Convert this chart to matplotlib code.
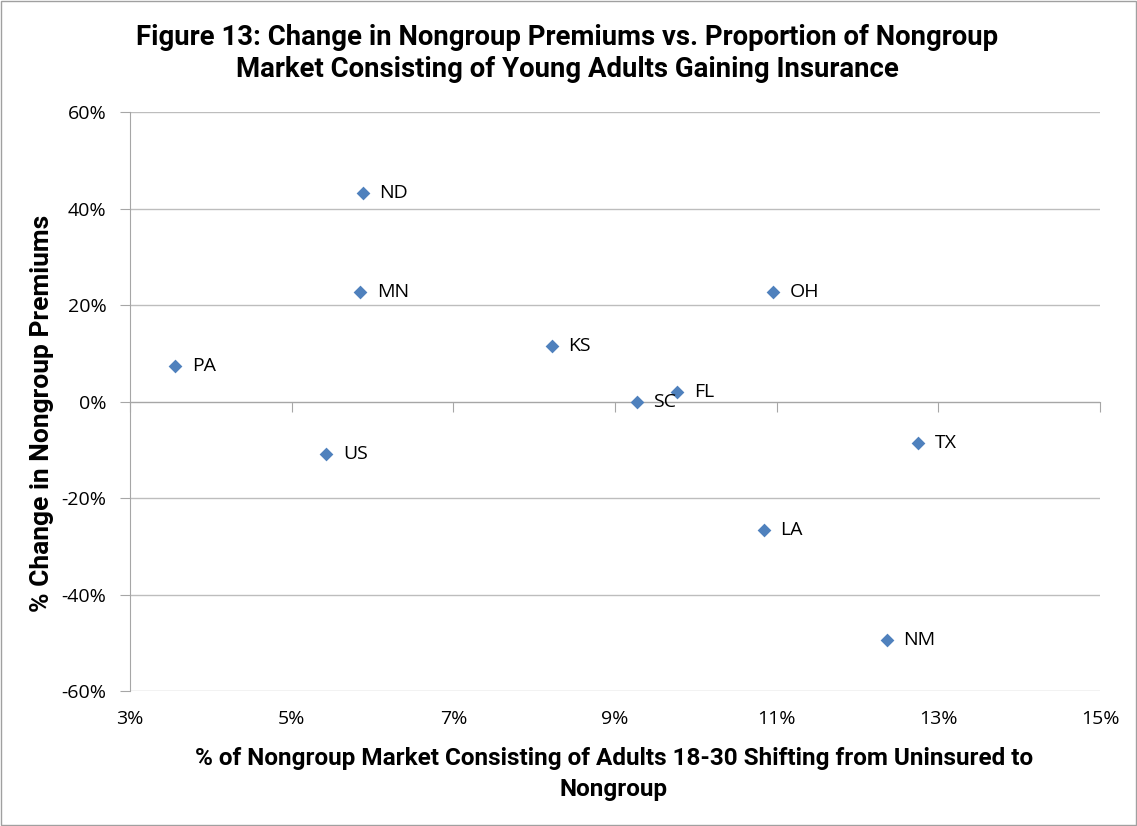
import matplotlib
matplotlib.use("Agg")
import matplotlib.pyplot as plt
from matplotlib.ticker import FuncFormatter, FixedLocator
from matplotlib.patches import Rectangle

states = ["ND", "MN", "PA", "US", "KS", "SC", "FL", "OH", "TX", "LA", "NM"]
young_share = [5.88, 5.85, 3.56, 5.43, 8.22, 9.27, 9.77, 10.96, 12.75, 10.84, 12.36]
premium_change = [43.2, 22.6, 7.3, -10.9, 11.5, 0.0, 2.0, 22.6, -8.5, -26.7, -49.4]
x_ticks = [3, 5, 7, 9, 11, 13, 15]
y_ticks = [-60, -40, -20, 0, 20, 40, 60]

title = "Figure 13: Change in Nongroup Premiums vs. Proportion of Nongroup\nMarket Consisting of Young Adults Gaining Insurance"
xlabel = "% of Nongroup Market Consisting of Adults 18-30 Shifting from Uninsured to\nNongroup"
ylabel = "% Change in Nongroup Premiums"

head = ["Roboto", "DejaVu Sans"]
body = ["Open Sans", "DejaVu Sans"]

fig = plt.figure(figsize=(11.37, 8.26), dpi=100)
fig.patch.set_facecolor("white")
fig.patches.append(Rectangle((0.001, 0.001), 0.998, 0.998, transform=fig.transFigure,
                             fill=False, edgecolor="#A0A0A0", linewidth=1))
ax = fig.add_axes([0.1143, 0.1634, 0.8532, 0.7010])

ax.scatter(young_share, premium_change, marker="D", s=7**2, color="#4F81BD", zorder=3, linewidths=0)
for s, x, y in zip(states, young_share, premium_change):
    ax.annotate(s, (x, y), xytext=(12, 0), textcoords="offset points", va="center", ha="left",
                fontsize=14, family=body, color="black", zorder=4)

ax.set_xlim(3, 15)
ax.set_ylim(-60, 60)
ax.yaxis.set_major_locator(FixedLocator(y_ticks))
ax.xaxis.set_major_locator(FixedLocator(x_ticks))
ax.yaxis.set_major_formatter(FuncFormatter(lambda v, p: f"{v:.0f}%"))
ax.grid(axis="y", color="#BDBDBD", linewidth=1)
ax.set_axisbelow(True)

for sp in ["top", "right"]:
    ax.spines[sp].set_visible(False)
ax.spines["left"].set_color("#A6A6A6")
ax.spines["bottom"].set_position(("data", 0))
ax.spines["bottom"].set_color("#A6A6A6")
ax.tick_params(axis="x", direction="out", length=7, color="#A6A6A6", labelbottom=False)
ax.tick_params(axis="y", direction="out", length=7, color="#A6A6A6", labelsize=14, pad=10)
for lab in ax.get_yticklabels():
    lab.set_family(body)

sec = ax.secondary_xaxis(0)
sec.xaxis.set_major_locator(FixedLocator(x_ticks))
sec.xaxis.set_major_formatter(FuncFormatter(lambda v, p: f"{v:.0f}%"))
sec.spines["bottom"].set_visible(False)
sec.tick_params(length=0, labelsize=14, pad=14)
for lab in sec.get_xticklabels():
    lab.set_family(body)

fig.text(0.499, 0.935, title, ha="center", va="center", fontsize=19.8, fontweight="bold",
         family=head, linespacing=1.25)
fig.text(0.540, 0.063, xlabel, ha="center", va="center", fontsize=17.5, fontweight="bold",
         family=head, linespacing=1.4)
fig.text(0.037, 0.5, ylabel, ha="center", va="center", rotation=90, fontsize=19,
         fontweight="bold", family=head)

fig.savefig("out.png", dpi=100)
